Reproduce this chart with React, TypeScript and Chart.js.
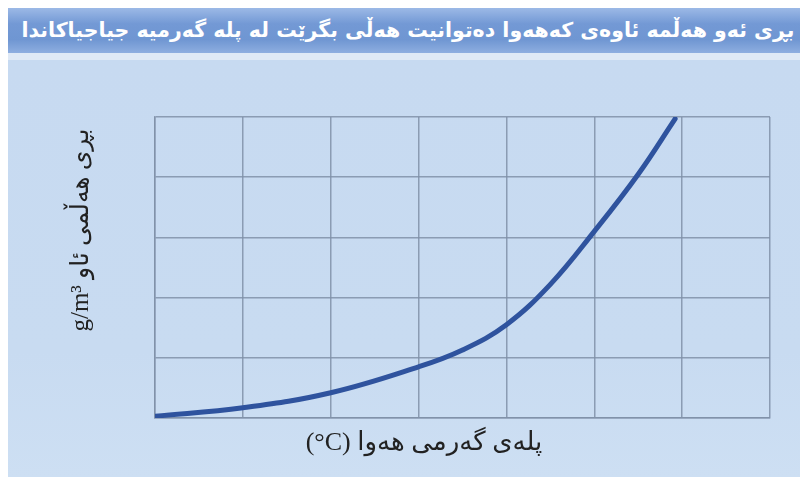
import React, { useEffect, useRef } from "react";
import { Chart, registerables } from "chart.js";

Chart.register(...registerables);

const titleText = "بڕی ئەو هەڵمە ئاوەی کەهەوا دەتوانیت هەڵی بگرێت لە پلە گەرمیە جیاجیاکاندا";
const yAxisTitle = "g/m³ بڕی هەڵمی ئاو";
const xAxisTitle = "(°C) پلەی گەرمی هەوا";

// temperature position (in grid columns) and vapour amount (in grid rows)
const temperatures = [0, 1, 2, 3, 3.5, 4, 4.5, 5, 5.5, 5.92];
const vapour = [0.03, 0.17, 0.42, 0.85, 1.13, 1.55, 2.22, 3.1, 4.05, 4.97];

const xMax = 7;
const yMax = 5;

export default function App() {
  const canvasRef = useRef<HTMLCanvasElement | null>(null);

  useEffect(() => {
    if (!canvasRef.current) return;
    const points = temperatures.map((t, i) => ({ x: t, y: vapour[i] }));
    const gridColor = "rgba(128,145,168,0.85)";
    const chart = new Chart(canvasRef.current, {
      type: "line",
      data: {
        datasets: [
          {
            data: points,
            borderColor: "#2f539e",
            borderWidth: 5,
            pointRadius: 0,
            tension: 0.4,
            borderCapStyle: "round",
            fill: false,
          },
        ],
      },
      options: {
        animation: false,
        responsive: false,
        maintainAspectRatio: false,
        layout: { padding: { left: 147, right: 38, top: 57, bottom: 59 } },
        plugins: { legend: { display: false }, tooltip: { enabled: false } },
        scales: {
          x: {
            type: "linear",
            min: 0,
            max: xMax,
            ticks: { display: false, stepSize: 1 },
            grid: { color: gridColor, lineWidth: 1.5, drawTicks: false },
            border: { color: gridColor, width: 1.5 },
          },
          y: {
            type: "linear",
            min: 0,
            max: yMax,
            ticks: { display: false, stepSize: 1 },
            grid: { color: gridColor, lineWidth: 1.5, drawTicks: false },
            border: { color: gridColor, width: 1.5 },
          },
        },
      },
    });
    return () => chart.destroy();
  }, []);

  const serif = "'Liberation Serif', 'DejaVu Serif', 'DejaVu Sans', serif";

  return (
    <div style={{ position: "relative", width: 800, height: 469, overflow: "hidden" }}>
      <div
        style={{
          position: "absolute",
          left: 0,
          top: 0,
          width: 800,
          height: 45,
          background: "linear-gradient(to bottom, #9cb9e6 0%, #7399d5 35%, #6f96d2 70%, #8eaee0 100%)",
          color: "#ffffff",
          fontFamily: "'DejaVu Sans', sans-serif",
          fontWeight: "bold",
          fontSize: 20.5,
          lineHeight: "45px",
          textAlign: "center",
          whiteSpace: "nowrap",
        }}
        dir="rtl"
      >
        {titleText}
      </div>
      <div
        style={{
          position: "absolute",
          left: 0,
          top: 45,
          width: 800,
          height: 7,
          background: "#dfe9f6",
        }}
      />
      <div
        style={{
          position: "absolute",
          left: 0,
          top: 52,
          width: 800,
          height: 417,
          background: "linear-gradient(to bottom, #c7daf1 0%, #c8dbf1 70%, #cddff3 100%)",
        }}
      />
      <canvas
        ref={canvasRef}
        width={800}
        height={417}
        style={{ position: "absolute", left: 0, top: 52, width: 800, height: 417 }}
      />
      <div
        style={{
          position: "absolute",
          left: 72 - 150,
          top: 222 - 20,
          width: 300,
          height: 40,
          lineHeight: "40px",
          textAlign: "center",
          transform: "rotate(-90deg)",
          fontFamily: serif,
          fontSize: 25,
          color: "#222",
          whiteSpace: "nowrap",
        }}
        dir="ltr"
      >
        {yAxisTitle}
      </div>
      <div
        style={{
          position: "absolute",
          left: 416 - 200,
          top: 414,
          width: 400,
          height: 40,
          lineHeight: "40px",
          textAlign: "center",
          fontFamily: serif,
          fontSize: 26,
          color: "#222",
          whiteSpace: "nowrap",
        }}
        dir="ltr"
      >
        {xAxisTitle}
      </div>
    </div>
  );
}
